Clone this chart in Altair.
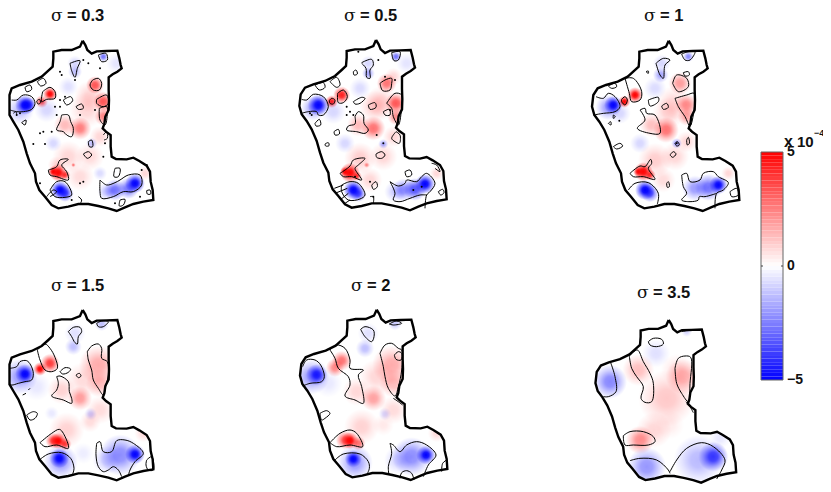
import altair as alt

W, H = 815, 476
OUTLINE = [(248,122),(256,135),(262,150),(275,161),(290,154),(320,153),(352,152),(358,175),(362,195),(365,205),(352,215),(338,223),(326,232),(326,270),(327,300),(326,330),(316,350),(313,372),(308,385),(318,395),(332,405),(332,440),(335,470),(348,477),(380,478),(400,473),(418,483),(440,497),(450,515),(452,545),(458,570),(460,600),(430,605),(400,612),(375,622),(350,633),(325,625),(295,618),(265,612),(235,612),(205,620),(175,625),(155,615),(135,590),(118,570),(108,545),(105,520),(90,490),(80,460),(70,425),(55,390),(40,365),(25,345),(18,320),(22,285),(35,265),(60,255),(95,245),(125,230),(145,212),(158,200),(160,175),(160,155),(185,150),(215,150),(240,140),(248,122)]

LABELS = ["0.3", "0.5", "1", "1.5", "2", "3.5"]
ORIGIN = [(0,0),(290,0),(580,0),(0,270),(290,270),(580,270)]
OUT_SHIFT = [(0,0,1),(10,-2,1),(18,0,1),(0,-2,1),(12,-3,1),(18,28,0.955)]
SIGMA_X = [51,344,644,51,351,637]
TEXT_X = [67,360,660,67,367,653]
BASE_Y = [21,21,21,291,291,298]
RADIUS_GAIN = 1.2

CONTOURS = {
"0.3": [
 [(35,300),(50,300),(70,285),(95,290),(105,310),(95,328),(70,335),(50,335),(30,330)],
 [(75,262),(90,255),(95,268),(80,275),(75,262)],[(112,245),(130,235),(138,250),(122,258),(112,245)],
 [(128,275),(150,262),(165,275),(165,295),(140,298),(125,305),(128,275)],[(110,303),(118,298),(122,308),(114,312),(110,303)],
 [(190,300),(212,290),(218,302),(200,315),(190,300)],[(228,320),(245,312),(250,325),(235,328),(228,320)],
 [(185,345),(205,345),(212,365),(220,385),(215,410),(200,405),(190,395),(170,390),(180,365),(185,345)],
 [(278,240),(295,235),(305,250),(298,270),(280,270),(270,255),(278,240)],[(290,298),(320,285),(325,310),(310,320),(290,310),(290,298)],
 [(298,325),(320,320),(322,340),(315,375),(300,360),(298,325)],[(210,190),(240,182),(232,205),(225,232),(215,212),(210,190)],
 [(295,165),(318,160),(322,180),(305,185),(295,165)],[(250,462),(265,455),(275,465),(262,475),(250,462)],
 [(265,425),(275,420),(278,440),(268,440),(265,425)],[(310,405),(320,395),(322,415),(312,420)],
 [(145,510),(170,500),(180,480),(205,478),(185,495),(200,515),(205,540),(170,530),(150,525),(145,510)],
 [(150,570),(170,545),(195,545),(215,585),(195,592),(165,590),(150,570)],[(140,590),(160,570),(170,575),(150,590)],
 [(235,590),(245,600),(240,612)],[(345,505),(360,505),(355,530),(342,530),(345,505)],[(360,600),(375,598),(370,615),(358,618),(360,600)],
 [(300,540),(320,555),(345,548),(360,540),(385,525),(420,525),(425,555),(400,575),(370,575),(340,590),(305,595),(300,575),(300,540)],
 [(65,368),(78,360),(75,375),(65,368)],[(440,572),(450,570),(452,582),(442,582),(440,572)],[(40,340),(48,335),(50,345)],
],
"0.5": [
 [(35,298),(50,300),(70,283),(100,290),(115,320),(100,345),(85,345),(80,335),(55,335),(35,340)],
 [(75,255),(100,248),(105,262),(88,270),(75,255)],[(120,245),(140,232),(150,255),(140,262),(120,245)],
 [(118,302),(125,295),(135,300),(130,312),(120,310),(118,302)],[(143,280),(160,270),(172,290),(160,308),(145,308),(143,280)],
 [(190,305),(215,292),(225,295),(210,310),(195,312),(190,305)],[(235,315),(255,308),(258,322),(240,328),(235,315)],
 [(280,335),(298,328),(300,345),(285,345),(280,335)],
 [(195,350),(205,335),(220,345),(222,370),(235,390),(225,400),(200,395),(170,390),(175,378),(195,372),(195,350)],
 [(270,250),(285,240),(305,235),(305,250),(300,270),(278,272),(270,250)],[(290,310),(315,280),(335,285),(335,320),(325,375),(310,350),(305,325),(290,310)],
 [(215,188),(245,178),(250,195),(240,210),(240,235),(230,232),(228,205),(215,190)],[(305,158),(330,155),(325,180),(312,182),(305,158)],
 [(190,215),(198,210),(202,222),(192,225),(190,215)],[(75,370),(88,358),(92,375),(78,378),(75,370)],[(132,395),(145,388),(148,402),(135,405),(132,395)],
 [(105,432),(115,428),(117,437),(107,438),(105,432)],[(258,462),(275,455),(285,465),(275,475),(260,472),(258,462)],
 [(150,520),(180,498),(190,480),(225,475),(205,495),(195,505),(215,540),(185,530),(160,530),(150,520)],
 [(155,555),(180,545),(205,550),(225,585),(210,597),(175,600),(155,575),(155,555)],
 [(133,565),(160,555)],[(135,580),(172,565)],[(150,600),(175,580)],[(165,610),(180,600)],
 [(245,555),(258,545),(262,560),(250,568),(245,555)],
 [(300,545),(325,558),(345,550),(350,540),(380,545),(395,530),(410,520),(435,550),(420,575),(410,585),(405,625)],
 [(300,545),(315,580),(310,600),(330,605),(360,595),(390,585),(410,585)],
 [(345,515),(360,510),(365,525),(350,530),(345,515)],[(445,575),(458,568),(462,578),(452,585),(445,575)],
 [(425,490),(440,495),(450,515),(435,505)],[(318,395),(330,405),(328,430),(315,425),(305,415),(318,395)],[(240,590),(250,590),(250,610)],
],
"1": [
 [(48,290),(70,295),(85,280),(105,290),(120,320),(105,335),(70,340),(40,345)],[(85,258),(105,250),(110,260),(95,265),(85,258)],
 [(135,235),(160,235),(185,275),(180,300),(155,305),(148,280),(135,235)],[(125,298),(135,290),(142,300),(135,315),(125,305),(125,298)],
 [(205,300),(235,292),(235,305),(210,318),(205,300)],[(245,318),(260,310),(265,322),(250,328),(245,318)],
 [(180,330),(195,325),(200,340),(225,345),(240,400),(210,400),(172,385),(195,360),(180,330)],
 [(278,250),(290,225),(320,235),(325,260),(295,275),(278,250)],[(310,218),(325,215),(328,225),(315,228),(310,218)],
 [(285,295),(320,285),(343,280),(342,330),(330,378),(315,350),(295,320),(285,295)],
 [(228,190),(250,175),(270,180),(255,195),(250,235),(240,225),(228,190)],[(305,162),(325,155),(345,155),(330,180),(315,180),(305,162)],
 [(198,215),(205,213),(205,220),(198,215)],[(85,370),(92,365),(93,375),(85,370)],[(100,345),(106,350),(100,355),(100,345)],
 [(100,440),(120,430),(128,438),(110,447),(100,440)],[(330,392),(340,400)],[(320,420),(325,412),(328,430),(322,435),(320,420)],
 [(285,430),(292,425),(298,435),(290,438),(285,430)],[(270,465),(280,455),(288,462),(278,472),(270,465)],
 [(150,520),(180,498),(195,500),(212,478),(215,490),(205,505),(225,538),(190,530),(160,530),(150,520)],
 [(260,550),(265,545),(268,560),(262,562),(260,550)],[(145,570),(165,550),(205,548),(235,580),(232,612)],
 [(305,525),(320,520),(330,545),(360,540),(370,520),(400,515),(415,530),(445,548),(430,570),(410,580),(405,625)],
 [(305,525),(310,560),(320,580),(305,600),(330,605),(355,600),(358,590),(375,590),(410,580)],
 [(450,575),(470,565),(475,585),(455,590),(450,575)],
],
"1.5": [
 [(28,295),(50,290),(60,275),(80,272),(92,285),(100,310),(95,330),(75,335),(55,340),(35,345),(20,340)],
 [(112,240),(135,222),(150,235),(165,262),(172,295),(155,305),(135,300),(120,270),(112,240)],
 [(180,305),(195,293),(212,297),(205,307),(188,312),(180,305)],[(228,315),(238,310),(243,318),(235,323),(228,315)],
 [(170,320),(180,318),(205,335),(208,365),(215,385),(215,400),(190,390),(155,378),(170,360),(175,340),(170,320)],
 [(262,245),(275,228),(295,222),(305,235),(305,265),(322,275),(325,315),(318,345),(310,375),(295,355),(280,330),(275,300),(265,270),(262,245)],
 [(205,185),(220,172),(240,172),(245,185),(235,200),(232,222),(225,218),(215,200),(205,185)],
 [(290,160),(305,153),(325,155),(310,170),(295,170),(290,160)],[(68,375),(78,370)],[(85,360),(90,355)],
 [(80,435),(100,425),(112,430),(105,445),(90,450),(80,435)],
 [(120,518),(155,490),(178,478),(190,490),(205,535),(170,525),(135,530),(120,518)],
 [(118,570),(145,552),(185,548),(212,565),(222,595),(218,612)],
 [(290,520),(300,515),(310,545),(335,545),(350,512),(375,510),(400,520),(430,550),(405,575),(390,600),(385,617)],
 [(290,520),(288,555),(295,590),(310,605),(325,600),(340,590),(355,600),(365,620)],
 [(440,570),(455,560),(460,600),(445,600),(438,585),(440,570)],
],
"2": [
 [(38,290),(50,270),(75,270),(92,285),(103,320),(95,335),(60,340),(38,348)],[(212,178),(225,170),(250,180),(252,200),(245,215),(225,200),(212,178)],
 [(298,162),(320,153),(335,160),(310,165),(298,162)],
 [(120,240),(140,225),(165,235),(180,270),(180,295),(220,300),(205,315),(215,350),(220,400),(195,390),(165,378),(180,345),(175,320),(145,295),(135,265),(120,240)],
 [(270,250),(285,225),(305,220),(325,235),(335,240),(335,300),(325,350),(315,378),(295,355),(285,320),(280,290),(270,250)],
 [(313,255),(325,245),(335,250),(333,270),(318,268),(313,255)],[(310,385),(325,395),(338,405)],
 [(90,430),(110,422),(120,430),(105,445),(95,450),(90,430)],[(120,518),(150,490),(180,480),(200,490),(218,530),(180,525),(140,530),(120,518)],
 [(135,570),(160,552),(210,552),(235,575),(238,595),(230,615)],
 [(300,520),(310,525),(330,545),(350,525),(380,515),(410,525),(438,555),(415,585),(400,620)],[(300,520),(305,550),(295,590),(297,615)],
 [(330,625),(335,608),(350,602),(365,610),(372,630)],[(455,605),(458,580),(470,570)],
],
"3.5": [
 [(205,215),(220,205),(245,208),(250,222),(230,230),(210,225),(205,215)],[(305,185),(320,182),(335,182)],
 [(92,278),(105,320),(108,365),(85,380),(70,380)],
 [(148,258),(172,240),(190,275),(210,310),(220,340),(215,395),(195,397),(183,385),(190,350),(170,320),(155,295),(148,258)],
 [(285,295),(295,265),(315,258),(332,262),(330,340),(325,395),(305,370),(290,340),(285,295)],[(318,395),(330,410),(340,428)],
 [(130,497),(150,485),(190,485),(220,500),(225,515),(205,525),(160,525),(135,525),(130,497)],
 [(150,572),(180,565),(230,570),(265,600),(270,610)],[(270,605),(290,570),(320,535),(365,518),(400,530),(435,570),(425,600),(410,627)],
],
}

SPECKS = {
"0.3": [(180,215),(185,225),(250,180),(265,190),(225,240),(300,205),(130,395),(120,400),(100,432),(135,432),(170,345),(180,320),(165,320),(285,330),(240,345),(315,430),(50,345),(120,550),(240,550),(250,545),(420,590),(425,510),(345,610),(215,600),(440,495),(155,395),(310,470),(195,290),(60,340),(180,300)],
"0.5": [(170,320),(180,335),(170,345),(190,345),(260,405),(280,430),(205,155),(265,180),(315,240),(60,340),(65,345),(240,545),(250,590),(370,570),(395,560),(300,330),(285,230),(195,530)],
"1": [(118,362),(290,430)],
"1.5": [],"2": [],"3.5": [],
}

# blob: centre x, centre y, value (x 1e-4, signed), radius in zoom pixels
BLOBS = {
"0.3": [(75,315,-5,28),(85,315,-4,22),(60,330,-1.5,40),(125,305,3.5,18),(150,282,5,20),(175,518,5,25),(160,515,5,15),(195,525,4,15),(220,495,3,6),(180,570,-5,26),(195,580,-4,24),(405,550,-5,28),(385,565,-3,30),(345,570,-3,30),(320,575,-1.5,25),(310,170,-3,14),(225,215,-1.5,20),(225,190,-1,22),(285,255,3.5,25),(310,305,3.5,28),(310,350,2.5,25),(240,385,2.8,32),(195,375,1.6,32),(160,430,-1,24),(260,330,1,50),(270,290,1.1,45),(205,470,1,45),(270,470,.9,40),(300,410,1,30),(170,495,1,25),(275,430,-1.5,16),(240,530,.9,40),(330,340,1,30),(435,520,1,20),(140,330,-1,35),(300,520,-.9,20),(205,260,-.8,28),(350,190,-.7,30)],
"0.5": [(85,315,-5,30),(70,325,-2,35),(125,305,4.5,18),(155,285,4.5,24),(180,518,5,28),(165,515,5,14),(200,528,4,14),(230,495,2.5,8),(190,570,-5,28),(205,582,-3.5,22),(405,552,-5,28),(375,568,-3.5,32),(340,570,-2.5,32),(315,575,-1.2,30),(318,170,-3,15),(235,220,-2,18),(235,190,-1,22),(290,250,3,28),(318,310,3.5,30),(318,350,2.5,24),(250,385,3,34),(205,375,1.6,32),(275,305,1,45),(255,320,1.2,45),(165,430,-1,28),(210,475,1.2,45),(280,470,1,40),(310,410,1,30),(280,432,-2,14),(240,540,1,35),(440,520,1,20),(130,335,-1,35),(210,265,-.9,30),(350,190,-.7,30),(310,230,1,25)],
"1": [(100,315,-5,26),(85,322,-2.2,36),(133,305,5,17),(165,285,5,22),(190,515,5,27),(175,515,5,14),(210,525,4,16),(195,570,-5,28),(210,580,-3.5,25),(415,555,-5,26),(385,562,-3,38),(345,565,-2.2,36),(325,170,-2.5,15),(242,225,-2,22),(245,190,-1,25),(300,250,2.2,32),(320,315,2.5,32),(320,350,2,26),(258,390,3,36),(215,375,1.5,34),(280,310,1,48),(265,340,1,45),(180,430,-1,28),(225,480,1.2,48),(285,470,1,40),(320,425,1,30),(290,430,-2.2,15),(250,540,.9,35),(120,340,-1,30),(225,265,-.9,32),(445,520,1,20)],
"1.5": [(75,312,-5,28),(60,320,-2.2,50),(120,297,5,19),(150,280,4,27),(175,513,5,23),(160,512,4,22),(195,522,4,18),(200,480,1.1,50),(178,565,-5,28),(182,575,-2.2,48),(405,553,-5,28),(360,555,-2.5,58),(320,570,-1.2,40),(220,230,-1.5,24),(225,190,-.8,30),(305,162,-1.5,20),(295,285,1.9,55),(240,385,2.2,34),(185,360,1.1,40),(300,340,1.6,40),(300,420,.9,40),(250,330,.9,50),(270,455,.9,30),(272,432,-1.2,18),(155,430,-.6,20),(110,350,-.6,40),(430,490,.9,25),(250,550,-.5,30)],
"2": [(80,314,-4.5,30),(65,320,-2.2,50),(135,293,2.6,26),(155,272,3,28),(180,512,5,24),(165,510,3.5,26),(205,520,3,20),(215,470,1.1,50),(190,567,-5,24),(195,578,-2.2,50),(408,555,-5,27),(365,560,-2.5,55),(325,570,-1.1,40),(225,235,-1.5,26),(235,190,-.8,30),(315,160,-1.3,20),(305,285,1.9,55),(250,385,2.1,36),(200,365,1,40),(310,340,1.6,40),(310,420,.9,40),(260,320,1,50),(285,432,-1,18),(115,340,-.6,40),(440,490,.9,25),(280,465,.6,30)],
"3.5": [(90,335,-2.6,48),(200,590,-2.3,55),(400,560,-4,42),(355,570,-1.6,70),(180,510,2.5,40),(222,480,1,50),(175,300,1.5,45),(310,320,1.8,50),(260,385,1.3,80),(290,300,.7,45),(228,250,-.8,40),(320,185,-1,15),(270,465,.5,40),(420,505,-.6,30)],
}

# colourbar levels in units of 1e-4
CB_STEP = 10 / 64
CB_LEVELS = [-5 + i * CB_STEP for i in range(64)]
CB_TICKS = [5, 0, -5]

def rows():
    blobs, lines, specks, outs, rings = [], [], [], [], []
    for i, lab in enumerate(LABELS):
        ox, oy = ORIGIN[i]
        dx, dy, s = OUT_SHIFT[i]
        conv = lambda p: (ox + p[0] / 3, oy + p[1] / 3)
        for b in BLOBS[lab]:
            x, y = conv(b)
            blobs.append(dict(x=x, y=y, sign=1 if b[2] > 0 else -1, a=(abs(b[2]) / 5) ** 1.15,
                              s=3.1416 * (RADIUS_GAIN * b[3] / 3) ** 2))
        for k, c in enumerate(CONTOURS[lab]):
            for j, p in enumerate(c):
                x, y = conv(p)
                lines.append(dict(x=max(x, 9.5), y=y, id=f"{lab}-{k}", o=j))
        for p in SPECKS[lab]:
            x, y = conv(p)
            specks.append(dict(x=x, y=y))
        ring = []
        for j, p in enumerate(OUTLINE):
            q = (248 + (p[0] - 248) * s + dx, 122 + (p[1] - 122) * s + dy)
            x, y = conv(q)
            x = max(x, 9.5)
            outs.append(dict(x=x, y=y, id=lab, o=j))
            ring.append([x - 8, y - 8])
        rings.append(ring[::-1])
    return blobs, lines, specks, outs, rings

blobs, lines, specks, outs, rings = rows()

X = lambda f="x": alt.X(f"{f}:Q", scale=alt.Scale(domain=[8, 8 + W]), axis=None)
Y = lambda f="y": alt.Y(f"{f}:Q", scale=alt.Scale(domain=[8 + H, 8]), axis=None)

def grad(name, r, g, b):
    return alt.RadialGradient(gradient="radial", id=name, x1=0.5, y1=0.5, r1=0, x2=0.5, y2=0.5, r2=0.5, stops=[
        alt.GradientStop(color=f"rgba({r},{g},{b},1)", offset=0),
        alt.GradientStop(color=f"rgba({r},{g},{b},0.9)", offset=0.3),
        alt.GradientStop(color=f"rgba({r},{g},{b},0.4)", offset=0.65),
        alt.GradientStop(color=f"rgba({r},{g},{b},0)", offset=1)])

def blob_layer(sign, name, col):
    data = [b for b in blobs if b["sign"] == sign]
    return alt.Chart(alt.Data(values=data)).mark_circle(fill=grad(name, *col)).encode(
        x=X(), y=Y(),
        size=alt.Size("s:Q", scale=None, legend=None),
        opacity=alt.Opacity("a:Q", scale=None, legend=None))

outer = [[0, 0], [W, 0], [W, H], [0, H], [0, 0]]
mask_feature = {"type": "Feature", "properties": {},
                "geometry": {"type": "Polygon", "coordinates": [outer] + rings}}
mask = alt.Chart(alt.Data(values=[mask_feature])).mark_geoshape(
    fill="white", stroke="white", strokeWidth=0).project(type="identity")

contour_layer = alt.Chart(alt.Data(values=lines)).mark_line(color="black", strokeWidth=1, interpolate="catmull-rom").encode(
    x=X(), y=Y(), detail="id:N", order="o:Q")
speck_layer = alt.Chart(alt.Data(values=specks)).mark_circle(color="black", size=4, opacity=1).encode(x=X(), y=Y())
outline_layer = alt.Chart(alt.Data(values=outs)).mark_line(color="black", strokeWidth=2.4).encode(
    x=X(), y=Y(), detail="id:N", order="o:Q")

titles = [dict(sx=SIGMA_X[i], tx=TEXT_X[i], y=BASE_Y[i], t=f"= {LABELS[i]}", sig="σ") for i in range(6)]
t1 = alt.Chart(alt.Data(values=titles)).mark_text(font="DejaVu Serif", fontSize=17, align="left", baseline="alphabetic", color="#111").encode(
    x=X("sx"), y=Y(), text="sig:N")
t2 = alt.Chart(alt.Data(values=titles)).mark_text(font="Liberation Sans", fontWeight="bold", fontSize=16.5, align="left", baseline="alphabetic", color="#111").encode(
    x=X("tx"), y=Y(), text="t:N")

CBY = alt.Scale(domain=[-5, 5], range=[372, 144])
cb_rows = [dict(v=v + CB_STEP / 2, lo=v, hi=v + CB_STEP) for v in CB_LEVELS]
cb = alt.Chart(alt.Data(values=cb_rows)).mark_rect().encode(
    x=alt.value(753), x2=alt.value(775),
    y=alt.Y("lo:Q", scale=CBY, axis=None), y2="hi:Q",
    color=alt.Color("v:Q", scale=alt.Scale(domain=[-5, 0, 5], range=["#0000ff", "#ffffff", "#ff0000"], interpolate="rgb"), legend=None))
cb_frame = alt.Chart(alt.Data(values=[dict(lo=-5, hi=5)])).mark_rect(filled=False, stroke="#666", strokeWidth=1).encode(
    x=alt.value(753), x2=alt.value(775), y=alt.Y("lo:Q", scale=CBY, axis=None), y2="hi:Q")
tick_rows = [dict(v=0)]
tk1 = alt.Chart(alt.Data(values=tick_rows)).mark_rule(color="#444").encode(x=alt.value(753), x2=alt.value(755), y=alt.Y("v:Q", scale=CBY, axis=None))
tk2 = alt.Chart(alt.Data(values=tick_rows)).mark_rule(color="#444").encode(x=alt.value(773), x2=alt.value(775), y=alt.Y("v:Q", scale=CBY, axis=None))
cb_text = alt.Chart(alt.Data(values=[dict(v=v, l="−5" if v < 0 else str(v)) for v in CB_TICKS])).mark_text(
    font="Liberation Sans", fontWeight="bold", fontSize=14, align="left", baseline="middle", color="#111").encode(
    x=alt.value(779), y=alt.Y("v:Q", scale=CBY, axis=None), text="l:N")
exp_rows = [dict(x=784, y=147, t="x", f=16), dict(x=797, y=147, t="10", f=15), dict(x=814, y=136, t="−4", f=9)]
exp_text = alt.Chart(alt.Data(values=exp_rows)).mark_text(
    font="Liberation Sans", fontWeight="bold", align="left", baseline="alphabetic", color="#111").encode(
    x=X(), y=Y(), text="t:N", size=alt.Size("f:Q", scale=None, legend=None))

chart = alt.layer(blob_layer(1, "gradRed", (255, 0, 0)), blob_layer(-1, "gradBlue", (0, 0, 255)), mask, contour_layer, speck_layer, outline_layer,
                  t1, t2, cb, cb_frame, tk1, tk2, cb_text, exp_text).resolve_scale(
    x="independent", y="independent", color="independent", size="independent", opacity="independent"
).properties(width=W, height=H, padding=0, autosize=alt.AutoSizeParams(type="none")
).configure_view(stroke=None).configure(background="white")

chart.save("out.html", embed_options={"renderer": "svg", "actions": False})
